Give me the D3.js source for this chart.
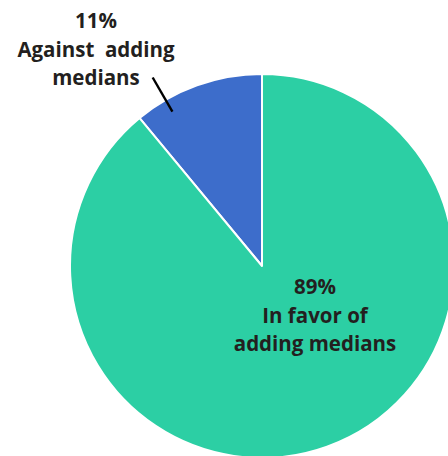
<!DOCTYPE html>
<html>
<head>
<meta charset="utf-8">
<script src="https://cdn.jsdelivr.net/npm/d3@7"></script>
<style>
  html, body { margin: 0; padding: 0; background: #fff; }
  svg { display: block; }
  text { font-family: "Open Sans", "Noto Sans", sans-serif; font-weight: 700; fill: #231f20; }
</style>
</head>
<body>
<svg id="chart" width="448" height="456"></svg>
<script>
// Survey answers on adding medians
const categories = ["Against adding medians", "In favor of adding medians"];
const shares = [11, 89];
const colors = ["#3d6dcb", "#2ccfa4"];
const labelLines = [["11%", "Against  adding", "medians"], ["89%", "In favor of", "adding medians"]];

const width = 448, height = 456;
const cx = 262, cy = 266, radius = 192;

const svg = d3.select("#chart");
const g = svg.append("g").attr("transform", `translate(${cx},${cy})`);

// Slices run counter-clockwise from 12 o'clock: the small slice sits left of the top
const pie = d3.pie()
  .value(d => d)
  .sort(null)
  .startAngle(0)
  .endAngle(-2 * Math.PI);

const arcs = pie(shares);
const arc = d3.arc().innerRadius(0).outerRadius(radius);

g.selectAll("path.slice")
  .data(arcs)
  .join("path")
  .attr("class", "slice")
  .attr("d", arc)
  .attr("fill", (d, i) => colors[i])
  .attr("stroke", "#fff")
  .attr("stroke-width", 2)
  .attr("stroke-linejoin", "round");

// Outside label for the small slice, with a leader line
const small = arcs[0];
const midSmall = (small.startAngle + small.endAngle) / 2;
const pt = (a, r) => [r * Math.sin(a), -r * Math.cos(a)];
const leaderAngle = midSmall - 0.18;
const lineStart = pt(leaderAngle, radius * 0.93);
const lineEnd = pt(leaderAngle, radius * 1.135);
g.append("line")
  .attr("x1", lineStart[0]).attr("y1", lineStart[1])
  .attr("x2", lineEnd[0]).attr("y2", lineEnd[1])
  .attr("stroke", "#000")
  .attr("stroke-width", 2.4);

const outer = svg.append("text")
  .attr("text-anchor", "middle")
  .attr("font-size", 20.5);
labelLines[0].forEach((t, i) => {
  outer.append("tspan")
    .attr("x", 96)
    .attr("y", 28 + i * 28.5)
    .attr("xml:space", "preserve")
    .style("white-space", "pre")
    .text(t);
});

// Inside label for the large slice
const inner = svg.append("text")
  .attr("text-anchor", "middle")
  .attr("font-size", 20.5);
labelLines[1].forEach((t, i) => {
  inner.append("tspan")
    .attr("x", 315)
    .attr("y", 294 + i * 28.5)
    .text(t);
});
</script>
</body>
</html>
